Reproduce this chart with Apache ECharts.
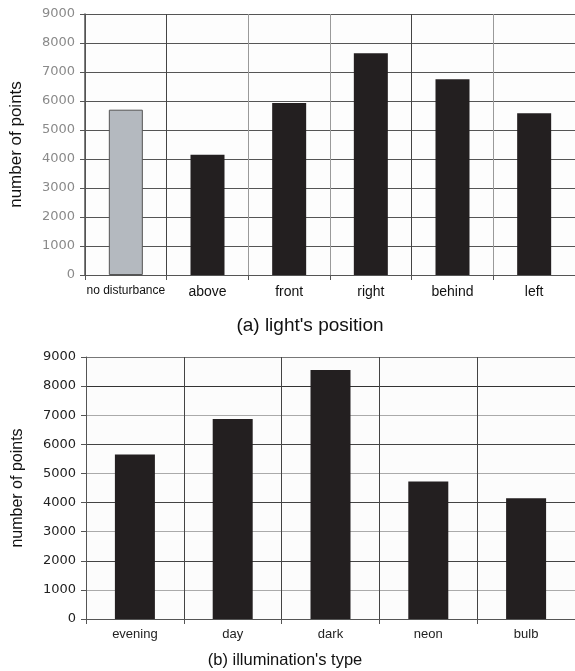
<!DOCTYPE html>
<html><head><meta charset="utf-8">
<script src="https://cdn.jsdelivr.net/npm/echarts@6/dist/echarts.min.js"></script>
<style>html,body{margin:0;padding:0;background:#fff}#c{width:575px;height:671px}</style>
</head><body><div id="c"></div>
<script>
var posCategories = ['no disturbance','above','front','right','behind','left'];
var posValues = [5700, 4150, 5930, 7650, 6750, 5580];
var illumCategories = ['evening','day','dark','neon','bulb'];
var illumValues = [5650, 6870, 8550, 4720, 4150];
var yTicks = [0,1000,2000,3000,4000,5000,6000,7000,8000,9000];
var titleA = "(a) light's position";
var titleB = "(b) illumination's type";
var yName = 'number of points';

var FONT = '"Liberation Sans", Arial, Helvetica, sans-serif';
var NUMFONT = '"DejaVu Sans", Verdana, sans-serif';
var chart = echarts.init(document.getElementById('c'), null, {renderer:'canvas'});
var posData = posValues.map(function(v,i){
  return i===0 ? {value:v, itemStyle:{color:'#b4b9bf', borderColor:'#555', borderWidth:1}} : {value:v};
});
function plain(v){return String(v);}
chart.setOption({
  animation:false,
  backgroundColor:'#fff',
  textStyle:{fontFamily:FONT},
  title:[
    {text:titleA, left:310, top:316, padding:0, textAlign:'center', textStyle:{fontSize:19, lineHeight:20, fontWeight:'normal', color:'#111', fontFamily:FONT}},
    {text:titleB, left:285, top:650, padding:0, textAlign:'center', textStyle:{fontSize:16.5, lineHeight:20, fontWeight:'normal', color:'#111', fontFamily:FONT}}
  ],
  grid:[
    {left:85, top:14, width:493, height:261, backgroundColor:'#fdfdfd', show:true, borderWidth:0},
    {left:86, top:357, width:497, height:262, backgroundColor:'#fcfcfc', show:true, borderWidth:0}
  ],
  xAxis:[
    {type:'category', gridIndex:0, data:posCategories,
     axisLine:{lineStyle:{color:'#555', width:1}},
     axisTick:{show:true, length:5, lineStyle:{color:'#555'}},
     axisLabel:{margin:10, fontSize:14, color:'#111', fontFamily:FONT, interval:0,
       formatter:function(v){return v==='no disturbance' ? '{s|'+v+'}' : v;},
       rich:{s:{fontSize:12, fontFamily:'"Liberation Sans Narrow", "Arial Narrow", '+FONT, color:'#111'}}},
     splitLine:{show:true, lineStyle:{color:['#555','#444','#9a9a9a','#9a9a9a','#444','#9a9a9a','#9a9a9a'], width:1}}},
    {type:'category', gridIndex:1, data:illumCategories,
     axisLine:{lineStyle:{color:'#555', width:1}},
     axisTick:{show:true, length:5, lineStyle:{color:'#555'}},
     axisLabel:{margin:9, fontSize:13, color:'#222', fontFamily:FONT, interval:0},
     splitLine:{show:true, lineStyle:{color:'#444', width:1}}}
  ],
  yAxis:[
    {type:'value', gridIndex:0, min:yTicks[0], max:yTicks[yTicks.length-1], interval:1000,
     name:yName, nameLocation:'middle', nameGap:60, nameTextStyle:{fontSize:17, color:'#111', fontFamily:FONT},
     axisLine:{show:true, lineStyle:{color:'#555', width:1.5}},
     axisTick:{show:true, length:5, lineStyle:{color:'#555'}},
     axisLabel:{fontSize:13, color:'#8a8a8a', margin:10, fontFamily:NUMFONT, formatter:plain},
     splitLine:{show:true, lineStyle:{color:'#555', width:1}}},
    {type:'value', gridIndex:1, min:yTicks[0], max:yTicks[yTicks.length-1], interval:1000,
     name:yName, nameLocation:'middle', nameGap:60, nameTextStyle:{fontSize:16, color:'#111', fontFamily:FONT},
     axisLine:{show:true, lineStyle:{color:'#555', width:1}},
     axisTick:{show:true, length:5, lineStyle:{color:'#555'}},
     axisLabel:{fontSize:13, color:'#222', margin:10, fontFamily:NUMFONT, formatter:plain},
     splitLine:{show:true, lineStyle:{color:['#555','#aaa','#444','#aaa','#444','#aaa','#444','#aaa','#333','#777'], width:1}}}
  ],
  series:[
    {type:'bar', xAxisIndex:0, yAxisIndex:0, data:posData, barWidth:34,
     itemStyle:{color:'#231f20'}},
    {type:'bar', xAxisIndex:1, yAxisIndex:1, data:illumValues, barWidth:40,
     itemStyle:{color:'#231f20'}}
  ]
});
</script></body></html>
